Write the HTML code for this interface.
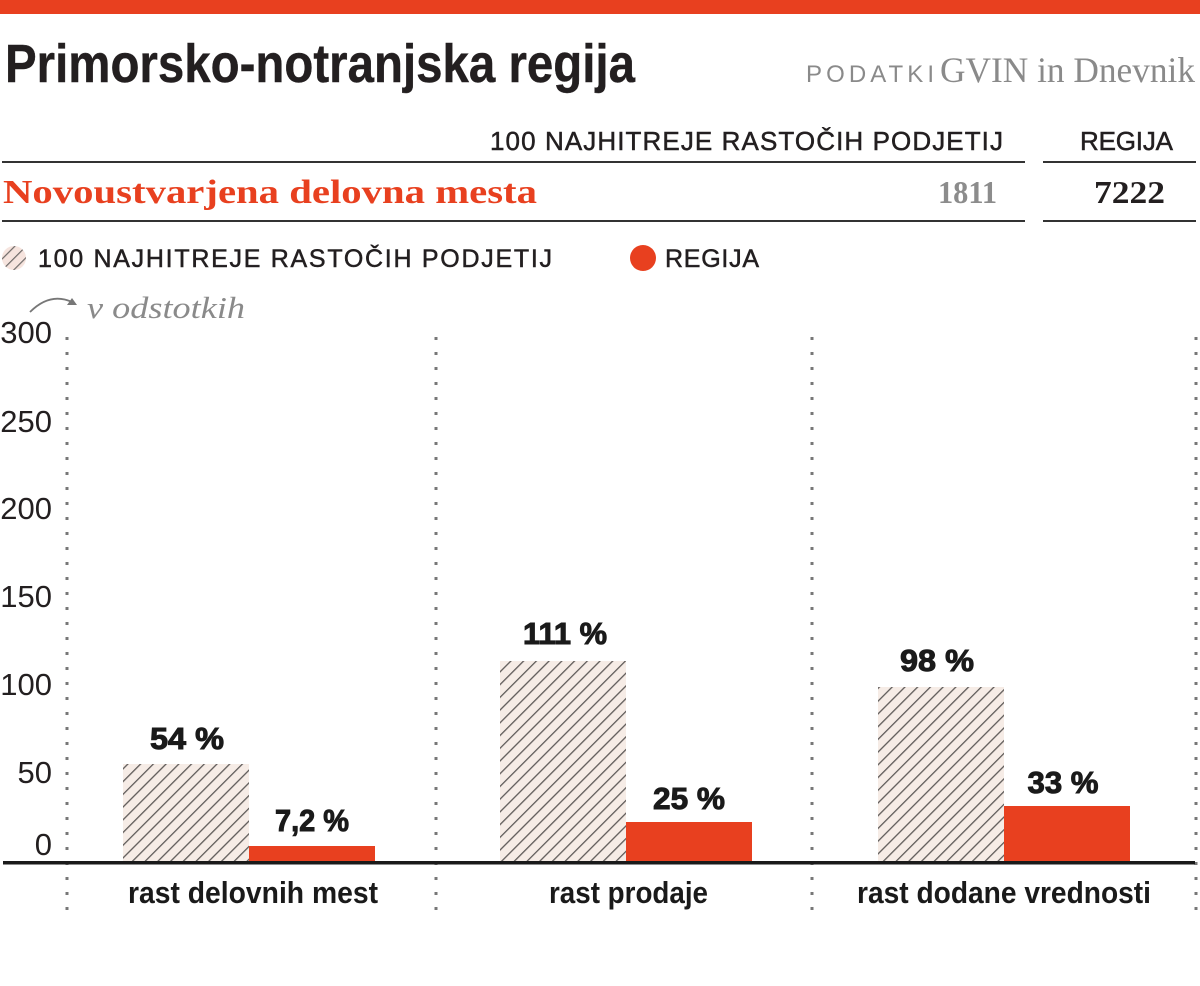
<!DOCTYPE html>
<html>
<head>
<meta charset="utf-8">
<style>
  html,body{margin:0;padding:0;background:#fff;}
  svg{display:block;}
  .sans{font-family:"Liberation Sans",sans-serif;}
  .serif{font-family:"Liberation Serif",serif;}
</style>
</head>
<body>
<svg width="1200" height="986" viewBox="0 0 1200 986" xmlns="http://www.w3.org/2000/svg">
  <defs>
    <pattern id="hatch" patternUnits="userSpaceOnUse" width="9" height="9" patternTransform="rotate(45)">
      <rect width="9" height="9" fill="#f6ece6"/>
      <line x1="0" y1="0" x2="0" y2="9" stroke="#5f5b59" stroke-width="2.6"/>
    </pattern>
    <pattern id="hatch2" patternUnits="userSpaceOnUse" width="8" height="8" patternTransform="rotate(45)">
      <rect width="8" height="8" fill="#f6e4de"/>
      <line x1="0" y1="0" x2="0" y2="8" stroke="#6e6a68" stroke-width="2.4"/>
    </pattern>
  </defs>

  <!-- top red bar -->
  <rect x="0" y="0" width="1200" height="14" fill="#e8401f"/>

  <!-- title -->
  <text class="sans" x="5" y="82" font-size="54" font-weight="bold" fill="#231f20" stroke="#231f20" stroke-width="0.4" textLength="630" lengthAdjust="spacingAndGlyphs">Primorsko-notranjska regija</text>

  <!-- source -->
  <text class="sans" x="806" y="82" font-size="24" fill="#8a8a8a" textLength="128" lengthAdjust="spacing">PODATKI</text>
  <text class="serif" x="940" y="82" font-size="36" fill="#8a8a8a" textLength="255" lengthAdjust="spacingAndGlyphs">GVIN in Dnevnik</text>

  <!-- table header -->
  <text class="sans" x="490" y="150" font-size="26" fill="#231f20" stroke="#231f20" stroke-width="0.5" textLength="513" lengthAdjust="spacing">100 NAJHITREJE RASTOČIH PODJETIJ</text>
  <text class="sans" x="1080" y="150" font-size="26" fill="#231f20" stroke="#231f20" stroke-width="0.5" textLength="93" lengthAdjust="spacing">REGIJA</text>
  <line x1="2" y1="162" x2="1025" y2="162" stroke="#333" stroke-width="2"/>
  <line x1="1043" y1="162" x2="1196" y2="162" stroke="#333" stroke-width="2"/>

  <!-- table row -->
  <text class="serif" x="3" y="203" font-size="34" font-weight="bold" fill="#e8401f" textLength="534" lengthAdjust="spacingAndGlyphs">Novoustvarjena delovna mesta</text>
  <text class="serif" x="938" y="203" font-size="32" font-weight="bold" fill="#8c8c8c" textLength="59" lengthAdjust="spacingAndGlyphs">1811</text>
  <text class="serif" x="1094" y="203" font-size="32" font-weight="bold" fill="#231f20" textLength="71" lengthAdjust="spacingAndGlyphs">7222</text>
  <line x1="2" y1="221" x2="1025" y2="221" stroke="#333" stroke-width="2"/>
  <line x1="1043" y1="221" x2="1196" y2="221" stroke="#333" stroke-width="2"/>

  <!-- legend -->
  <circle cx="14" cy="258" r="12" fill="url(#hatch2)"/>
  <text class="sans" x="38" y="267" font-size="25" fill="#231f20" stroke="#231f20" stroke-width="0.5" textLength="514" lengthAdjust="spacing">100 NAJHITREJE RASTOČIH PODJETIJ</text>
  <circle cx="643" cy="258" r="13" fill="#e8401f"/>
  <text class="sans" x="665" y="267" font-size="25" fill="#231f20" stroke="#231f20" stroke-width="0.5" textLength="94" lengthAdjust="spacing">REGIJA</text>

  <!-- unit note -->
  <path d="M30,312 Q50,292 72,302" fill="none" stroke="#777" stroke-width="1.8"/>
  <polygon points="77,305 67,305 72,298" fill="#777"/>
  <text class="serif" x="87" y="318" font-size="31" font-style="italic" fill="#8a8a8a" textLength="158" lengthAdjust="spacingAndGlyphs">v odstotkih</text>

  <!-- dotted verticals -->
  <g stroke="#777" stroke-width="3" stroke-dasharray="3 12">
    <line x1="67" y1="337" x2="67" y2="916"/>
    <line x1="436" y1="337" x2="436" y2="916"/>
    <line x1="812" y1="337" x2="812" y2="916"/>
    <line x1="1196" y1="337" x2="1196" y2="916"/>
  </g>

  <!-- y labels -->
  <g class="sans" font-size="31" fill="#231f20" text-anchor="end">
    <text x="52" y="343">300</text>
    <text x="52" y="432">250</text>
    <text x="52" y="519">200</text>
    <text x="52" y="607">150</text>
    <text x="52" y="695">100</text>
    <text x="52" y="783">50</text>
    <text x="52" y="855">0</text>
  </g>

  <!-- bars -->
  <rect x="123" y="764" width="126" height="98" fill="url(#hatch)"/>
  <rect x="249" y="846" width="126" height="16" fill="#e8401f"/>
  <rect x="500" y="661" width="126" height="201" fill="url(#hatch)"/>
  <rect x="626" y="822" width="126" height="40" fill="#e8401f"/>
  <rect x="878" y="687" width="126" height="175" fill="url(#hatch)"/>
  <rect x="1004" y="806" width="126" height="56" fill="#e8401f"/>

  <!-- axis -->
  <rect x="3" y="861" width="1192" height="3.5" fill="#1a1a1a"/>

  <!-- value labels -->
  <g class="sans" font-size="31" font-weight="bold" fill="#1a1a1a" stroke="#1a1a1a" stroke-width="1" text-anchor="middle">
    <text x="187" y="749" textLength="74" lengthAdjust="spacingAndGlyphs">54 %</text>
    <text x="312" y="831" textLength="74" lengthAdjust="spacingAndGlyphs">7,2 %</text>
    <text x="565" y="644" textLength="84" lengthAdjust="spacingAndGlyphs">111 %</text>
    <text x="689" y="809" textLength="72" lengthAdjust="spacingAndGlyphs">25 %</text>
    <text x="937" y="671" textLength="74" lengthAdjust="spacingAndGlyphs">98 %</text>
    <text x="1063" y="793" textLength="71" lengthAdjust="spacingAndGlyphs">33 %</text>
  </g>

  <!-- category labels -->
  <g class="sans" font-size="31" font-weight="bold" fill="#1a1a1a">
    <text x="128" y="903" textLength="250" lengthAdjust="spacingAndGlyphs">rast delovnih mest</text>
    <text x="549" y="903" textLength="159" lengthAdjust="spacingAndGlyphs">rast prodaje</text>
    <text x="857" y="903" textLength="294" lengthAdjust="spacingAndGlyphs">rast dodane vrednosti</text>
  </g>
</svg>
</body>
</html>
